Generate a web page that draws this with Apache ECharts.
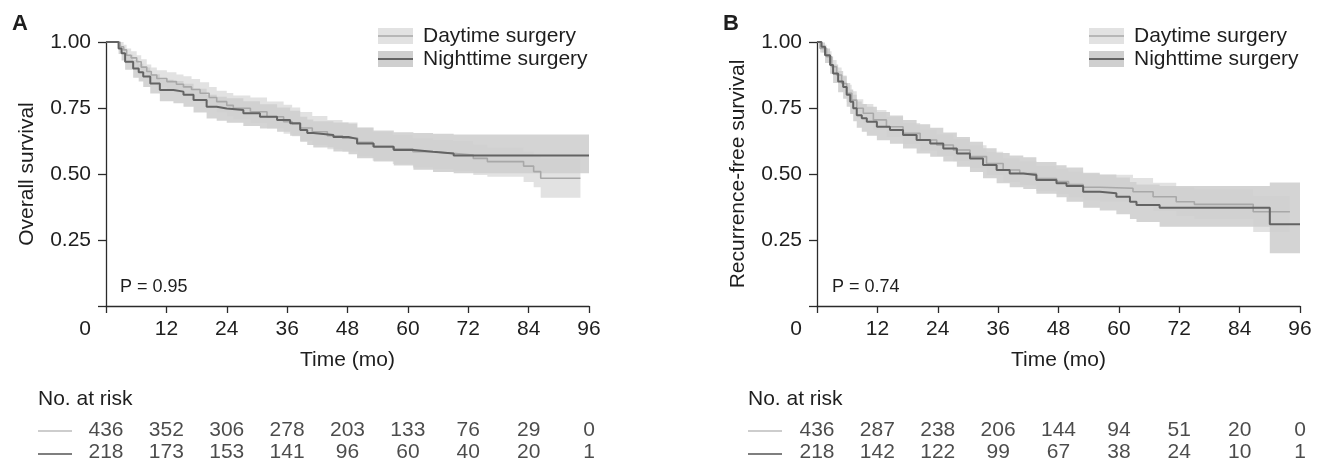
<!DOCTYPE html>
<html>
<head>
<meta charset="utf-8">
<script src="https://cdn.jsdelivr.net/npm/echarts@6/dist/echarts.min.js"></script>
<style>
html,body{margin:0;padding:0;background:#fff;}
#c{width:1321px;height:463px;}
</style>
</head>
<body>
<div id="c"></div>
<script>
// ---------- data ----------
const timeTicks = [0, 12, 24, 36, 48, 60, 72, 84, 96];
const yTicks = [0, 0.25, 0.5, 0.75, 1];
const groups = ['Daytime surgery', 'Nighttime surgery'];

// Panel A: overall survival
const osDayT  = [0,2.8,3.5,4.1,5,6.1,7,8.1,9,10.1,12.1,14,15.4,17,18.7,20.5,22,24,25.3,28.7,32,35.3,37,38.6,41,44,47,50,53,57,61,65,69,73,75.8,83,85,86.4,94.3];
const osDayS  = [1,0.982,0.97,0.95,0.94,0.925,0.905,0.888,0.875,0.862,0.85,0.84,0.83,0.82,0.806,0.79,0.774,0.76,0.749,0.736,0.717,0.698,0.69,0.674,0.66,0.645,0.636,0.62,0.605,0.595,0.584,0.578,0.572,0.559,0.547,0.53,0.509,0.484,0.484];
const osDayLo = [1,0.965,0.952,0.93,0.918,0.9,0.878,0.86,0.845,0.83,0.817,0.805,0.795,0.783,0.768,0.75,0.733,0.718,0.706,0.692,0.672,0.652,0.643,0.626,0.61,0.594,0.584,0.566,0.55,0.538,0.525,0.518,0.51,0.496,0.49,0.47,0.45,0.41,0.41];
const osDayHi = [1,1,0.99,0.975,0.965,0.95,0.935,0.915,0.903,0.893,0.885,0.877,0.87,0.86,0.848,0.83,0.815,0.807,0.797,0.79,0.775,0.762,0.752,0.735,0.72,0.705,0.695,0.675,0.66,0.648,0.635,0.63,0.625,0.612,0.6,0.585,0.567,0.56,0.56];

const osNightT  = [0,2.5,3.1,3.8,5.4,6.5,7.4,8.8,10.7,13.4,15.4,17.4,20,22,24,27.3,30.6,34,36.6,38.6,40,41.2,45.2,48.2,49.9,53.2,57.2,61.1,65,69.1,96];
const osNightS  = [1,0.975,0.957,0.925,0.9,0.885,0.869,0.843,0.818,0.812,0.8,0.78,0.755,0.748,0.742,0.73,0.717,0.705,0.692,0.667,0.655,0.648,0.64,0.633,0.616,0.603,0.591,0.584,0.578,0.57,0.57];
const osNightLo = [1,0.955,0.93,0.895,0.865,0.85,0.83,0.805,0.776,0.768,0.755,0.733,0.71,0.702,0.694,0.682,0.672,0.66,0.645,0.622,0.61,0.6,0.585,0.575,0.56,0.547,0.532,0.516,0.508,0.503,0.503];
const osNightHi = [1,0.99,0.978,0.952,0.932,0.918,0.903,0.878,0.857,0.852,0.842,0.823,0.8,0.793,0.787,0.776,0.764,0.752,0.74,0.717,0.706,0.7,0.695,0.69,0.676,0.665,0.658,0.655,0.652,0.65,0.65];

// Panel B: recurrence-free survival
const rfsDayT  = [0,0.6,1.9,2.9,3.9,4.9,5.9,6.9,7.9,9.2,11.2,13.8,17.1,20.5,23.8,27.1,30.4,33.7,37,40.3,43.6,47.6,50,52.9,56.2,62.8,66.8,71.4,75,86.7,94];
const rfsDayS  = [1,0.976,0.944,0.906,0.875,0.843,0.806,0.78,0.749,0.73,0.705,0.679,0.654,0.629,0.61,0.591,0.566,0.54,0.515,0.502,0.483,0.471,0.46,0.45,0.446,0.433,0.414,0.395,0.385,0.357,0.357];
const rfsDayLo = [1,0.96,0.922,0.88,0.846,0.812,0.773,0.746,0.713,0.693,0.667,0.64,0.614,0.588,0.568,0.548,0.522,0.495,0.47,0.456,0.436,0.423,0.411,0.4,0.395,0.38,0.36,0.34,0.33,0.28,0.28];
const rfsDayHi = [1,0.99,0.965,0.932,0.903,0.873,0.838,0.813,0.783,0.765,0.742,0.717,0.693,0.669,0.651,0.633,0.609,0.584,0.56,0.548,0.53,0.519,0.509,0.5,0.497,0.485,0.467,0.45,0.442,0.418,0.418];

const rfsNightT  = [0,0.9,1.6,2.6,3.2,4.2,5.2,5.9,6.6,7.2,7.9,8.9,9.9,11.9,14.5,17.1,19.8,22.5,25.1,27.8,30.4,33,35.7,38.3,41,43.6,47.6,49.6,52.9,56.2,59.5,62.2,63.5,68.1,90,96];
const rfsNightS  = [1,0.982,0.95,0.913,0.881,0.85,0.83,0.8,0.774,0.749,0.723,0.711,0.698,0.679,0.667,0.648,0.629,0.616,0.597,0.578,0.559,0.534,0.515,0.502,0.496,0.477,0.465,0.455,0.433,0.427,0.414,0.395,0.383,0.372,0.31,0.31];
const rfsNightLo = [1,0.96,0.92,0.88,0.845,0.81,0.785,0.755,0.727,0.7,0.675,0.66,0.645,0.628,0.615,0.597,0.578,0.565,0.547,0.527,0.508,0.484,0.465,0.45,0.443,0.425,0.412,0.395,0.372,0.362,0.348,0.33,0.318,0.3,0.2,0.2];
const rfsNightHi = [1,0.998,0.975,0.945,0.915,0.89,0.87,0.845,0.82,0.8,0.775,0.765,0.755,0.735,0.722,0.705,0.688,0.675,0.657,0.64,0.622,0.598,0.58,0.57,0.563,0.545,0.533,0.525,0.505,0.498,0.487,0.47,0.46,0.455,0.468,0.468];

// Numbers at risk
const riskTimes = [0, 12, 24, 36, 48, 60, 72, 84, 96];
const riskA_day   = [436, 352, 306, 278, 203, 133, 76, 29, 0];
const riskA_night = [218, 173, 153, 141, 96, 60, 40, 20, 1];
const riskB_day   = [436, 287, 238, 206, 144, 94, 51, 20, 0];
const riskB_night = [218, 142, 122, 99, 67, 38, 24, 10, 1];
const riskRows = ['Nighttime', 'Daytime'];

const pValues = ['P = 0.95', 'P = 0.74'];
const yNames = ['Overall survival', 'Recurrence-free survival'];

// ---------- styles ----------
const FONT = '"Liberation Sans", Arial, Helvetica, sans-serif';
const TXT = '#1e1e1e';
const AX = '#2b2b2b';
const DAY_LINE = '#a8a8a8', NIGHT_LINE = '#636363';
const DAY_BAND = '#e2e2e2', NIGHT_BAND = '#cfcfcf';
const PANEL_LEFT = [106, 817];
const PANEL_W = 483;

function bandSeries(idx, T, LO, HI, color, opacity, z) {
  return {
    type: 'custom', xAxisIndex: idx, yAxisIndex: idx, z: z, silent: true,
    data: [[T[0], LO[0]]],
    renderItem: function (params, api) {
      const up = [], dn = [];
      for (let i = 0; i < T.length; i++) {
        const t1 = i + 1 < T.length ? T[i + 1] : T[i];
        up.push(api.coord([T[i], HI[i]]), api.coord([t1, HI[i]]));
        dn.push(api.coord([T[i], LO[i]]), api.coord([t1, LO[i]]));
      }
      return { type: 'polygon', shape: { points: up.concat(dn.reverse()) },
               style: { fill: color, opacity: opacity } };
    }
  };
}
function lineSeries(idx, name, T, S, color, width, z) {
  return {
    type: 'line', name: name, xAxisIndex: idx, yAxisIndex: idx, step: 'end',
    data: T.map((t, i) => [t, S[i]]), showSymbol: false, symbol: 'none',
    lineStyle: { color: color, width: width }, z: z, silent: true
  };
}
function riskSeries(idx, row, vals) {
  const rowIndex = riskRows.indexOf(row);
  return {
    type: 'scatter', xAxisIndex: idx, yAxisIndex: idx, symbol: 'circle', symbolSize: 2,
    itemStyle: { color: 'rgba(255,255,255,0)' }, silent: true,
    data: riskTimes.map((t, i) => [t, rowIndex]),
    label: { show: true, position: 'top', distance: -11.5, formatter: p => String(vals[p.dataIndex]),
             fontSize: 21, color: TXT, fontFamily: FONT }
  };
}
function mainX(i) {
  return {
    gridIndex: i, type: 'value', min: timeTicks[0], max: timeTicks[timeTicks.length - 1],
    interval: timeTicks[1] - timeTicks[0],
    name: 'Time (mo)', nameLocation: 'middle', nameGap: 44,
    nameTextStyle: { fontSize: 21, color: TXT, fontFamily: FONT },
    axisLine: { show: true, lineStyle: { color: AX, width: 1.3 } },
    axisTick: { show: true, length: 7, lineStyle: { color: AX, width: 1.3 } },
    axisLabel: { fontSize: 21, color: TXT, fontFamily: FONT, margin: 13,
      formatter: v => v === 0 ? '{z|0}' : String(v),
      rich: { z: { fontSize: 21, color: TXT, fontFamily: FONT, padding: [0, 42, 0, 0] } } },
    splitLine: { show: false }
  };
}
function mainY(i) {
  return {
    gridIndex: i, type: 'value', min: yTicks[0], max: yTicks[yTicks.length - 1],
    interval: yTicks[1] - yTicks[0],
    name: yNames[i], nameLocation: 'middle', nameGap: 68,
    nameTextStyle: { fontSize: 21, color: TXT, fontFamily: FONT },
    axisLine: { show: true, lineStyle: { color: AX, width: 1.3 } },
    axisTick: { show: true, length: 8, lineStyle: { color: AX, width: 1.3 } },
    axisLabel: { fontSize: 21, color: TXT, fontFamily: FONT, margin: 15,
      formatter: v => v === 0 ? '' : v.toFixed(2) },
    splitLine: { show: false }
  };
}
function legendGraphics(x0) {
  const g = [];
  const rows = [{ y: 36, fill: DAY_BAND, line: DAY_LINE, w: 1.5, text: groups[0] },
                { y: 59, fill: NIGHT_BAND, line: NIGHT_LINE, w: 2, text: groups[1] }];
  rows.forEach(r => {
    g.push({ type: 'rect', left: x0, top: r.y - 8, shape: { width: 35, height: 16 }, style: { fill: r.fill }, silent: true });
    g.push({ type: 'line', shape: { x1: x0, y1: r.y, x2: x0 + 35, y2: r.y }, style: { stroke: r.line, lineWidth: r.w }, silent: true });
    g.push({ type: 'text', x: x0 + 45, y: r.y, style: { text: r.text, font: '21px ' + FONT, fill: TXT, textVerticalAlign: 'middle' }, silent: true });
  });
  return g;
}
function riskHeaderGraphics(x0) {
  return [
    { type: 'text', x: x0, y: 399, style: { text: 'No. at risk', font: '21px ' + FONT, fill: TXT, textVerticalAlign: 'middle' }, silent: true },
    { type: 'line', shape: { x1: x0, y1: 431, x2: x0 + 34, y2: 431 }, style: { stroke: '#bdbdbd', lineWidth: 1.5 }, silent: true },
    { type: 'line', shape: { x1: x0, y1: 454, x2: x0 + 34, y2: 454 }, style: { stroke: '#555', lineWidth: 1.5 }, silent: true }
  ];
}

const chart = echarts.init(document.getElementById('c'), null, { renderer: 'canvas' });
const option = {
  animation: false,
  backgroundColor: '#fff',
  textStyle: { fontFamily: FONT },
  grid: [
    { left: PANEL_LEFT[0], top: 42, width: PANEL_W, height: 264 },
    { left: PANEL_LEFT[1], top: 42, width: PANEL_W, height: 264 },
    { left: PANEL_LEFT[0], top: 419.5, width: PANEL_W, height: 46 },
    { left: PANEL_LEFT[1], top: 419.5, width: PANEL_W, height: 46 }
  ],
  xAxis: [mainX(0), mainX(1),
    { gridIndex: 2, type: 'value', min: 0, max: 96, show: false },
    { gridIndex: 3, type: 'value', min: 0, max: 96, show: false }],
  yAxis: [mainY(0), mainY(1),
    { gridIndex: 2, type: 'category', data: riskRows, show: false },
    { gridIndex: 3, type: 'category', data: riskRows, show: false }],
  series: [
    bandSeries(0, osDayT, osDayLo, osDayHi, DAY_BAND, 1, 1),
    bandSeries(0, osNightT, osNightLo, osNightHi, NIGHT_BAND, 0.9, 2),
    lineSeries(0, groups[0], osDayT, osDayS, DAY_LINE, 1.6, 3),
    lineSeries(0, groups[1], osNightT, osNightS, NIGHT_LINE, 2, 4),
    bandSeries(1, rfsDayT, rfsDayLo, rfsDayHi, DAY_BAND, 1, 1),
    bandSeries(1, rfsNightT, rfsNightLo, rfsNightHi, NIGHT_BAND, 0.9, 2),
    lineSeries(1, groups[0], rfsDayT, rfsDayS, DAY_LINE, 1.6, 3),
    lineSeries(1, groups[1], rfsNightT, rfsNightS, NIGHT_LINE, 2, 4),
    riskSeries(2, 'Daytime', riskA_day),
    riskSeries(2, 'Nighttime', riskA_night),
    riskSeries(3, 'Daytime', riskB_day),
    riskSeries(3, 'Nighttime', riskB_night)
  ],
  graphic: [].concat(
    [{ type: 'text', x: 12, y: 24, style: { text: 'A', font: 'bold 22px ' + FONT, fill: TXT, textVerticalAlign: 'middle' }, silent: true },
     { type: 'text', x: 723, y: 24, style: { text: 'B', font: 'bold 22px ' + FONT, fill: TXT, textVerticalAlign: 'middle' }, silent: true },
     { type: 'text', x: 120, y: 287, style: { text: pValues[0], font: '18px ' + FONT, fill: TXT, textVerticalAlign: 'middle' }, silent: true },
     { type: 'text', x: 832, y: 287, style: { text: pValues[1], font: '18px ' + FONT, fill: TXT, textVerticalAlign: 'middle' }, silent: true }],
    legendGraphics(378), legendGraphics(1089),
    riskHeaderGraphics(38), riskHeaderGraphics(748)
  )
};
chart.setOption(option);
</script>
</body>
</html>
